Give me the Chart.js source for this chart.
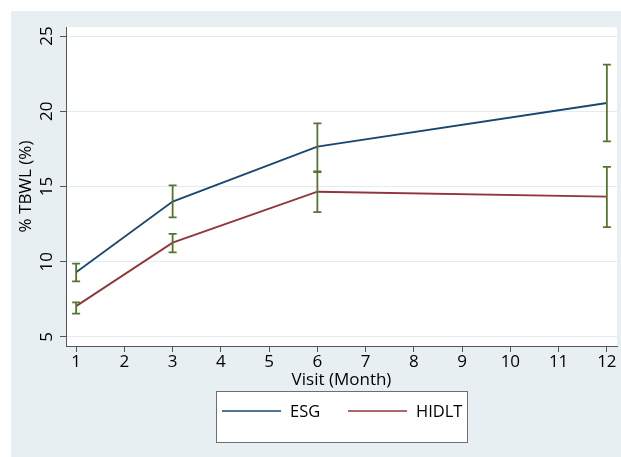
<!DOCTYPE html>
<html>
<head>
<meta charset="utf-8">
<script src="https://cdn.jsdelivr.net/npm/chart.js@4/dist/chart.umd.min.js"></script>
<style>
  html, body { margin: 0; padding: 0; background: #fff; }
  #wrap { position: absolute; left: 11px; top: 11px; width: 610px; height: 446px; background: #e8eff2; }
</style>
</head>
<body>
<div id="wrap"><canvas id="chart" width="610" height="446"></canvas></div>
<script>
// visit months and group means with error bar limits (% TBWL)
const months = [1, 3, 6, 12];
const esgMean = [9.3, 14.0, 17.65, 20.55];
const esgLow = [8.7, 12.95, 15.95, 18.0];
const esgHigh = [9.87, 15.07, 19.2, 23.1];
const hidltMean = [7.05, 11.27, 14.65, 14.33];
const hidltLow = [6.55, 10.62, 13.3, 12.3];
const hidltHigh = [7.3, 11.85, 16.0, 16.3];
const xTicks = [1, 2, 3, 4, 5, 6, 7, 8, 9, 10, 11, 12];
const yTicks = [5, 10, 15, 20, 25];

const FONT = "'Open Sans', 'DejaVu Sans', sans-serif";
const navy = '#1a476f';
const maroon = '#90353b';
const green = '#55752f';

const toPoints = (xs, ys) => xs.map((x, i) => ({ x: x, y: ys[i] }));

// white plot region
const plotBg = {
  id: 'plotBg',
  beforeDraw(chart) {
    const a = chart.chartArea;
    const ctx = chart.ctx;
    ctx.save();
    ctx.fillStyle = '#ffffff';
    ctx.fillRect(a.left, a.top, a.right - a.left, a.bottom - a.top);
    ctx.restore();
  }
};

// capped error bars drawn on top of the lines
const errorBars = {
  id: 'errorBars',
  afterDatasetsDraw(chart) {
    const ctx = chart.ctx;
    const xs = chart.scales.x, ys = chart.scales.y;
    const sets = [[esgLow, esgHigh], [hidltLow, hidltHigh]];
    ctx.save();
    ctx.strokeStyle = green;
    ctx.lineWidth = 1.8;
    sets.forEach(([lo, hi]) => {
      months.forEach((m, i) => {
        const px = xs.getPixelForValue(m);
        const y1 = ys.getPixelForValue(lo[i]);
        const y2 = ys.getPixelForValue(hi[i]);
        ctx.beginPath();
        ctx.moveTo(px, y1); ctx.lineTo(px, y2);
        ctx.moveTo(px - 4, y1); ctx.lineTo(px + 4, y1);
        ctx.moveTo(px - 4, y2); ctx.lineTo(px + 4, y2);
        ctx.stroke();
      });
    });
    ctx.restore();
  }
};

// boxed legend below the x axis title
const boxLegend = {
  id: 'boxLegend',
  afterDraw(chart) {
    const ctx = chart.ctx;
    const bx = 205, by = 380, bw = 251, bh = 51;
    ctx.save();
    ctx.fillStyle = '#ffffff';
    ctx.fillRect(bx, by, bw, bh);
    ctx.strokeStyle = '#6e6e6e';
    ctx.lineWidth = 1;
    ctx.strokeRect(bx + 0.5, by + 0.5, bw, bh);
    const rowY = by + 20;
    const starts = [bx + 6, bx + 132];
    ctx.font = '16.5px ' + FONT;
    ctx.textBaseline = 'middle';
    ctx.fillStyle = '#000';
    chart.data.datasets.forEach((ds, i) => {
      const sx = starts[i];
      ctx.strokeStyle = ds.borderColor;
      ctx.lineWidth = 1.6;
      ctx.beginPath();
      ctx.moveTo(sx, rowY); ctx.lineTo(sx + 59, rowY);
      ctx.stroke();
      ctx.fillText(ds.label, sx + 68, rowY + 1);
    });
    ctx.restore();
  }
};

new Chart(document.getElementById('chart'), {
  type: 'line',
  data: {
    datasets: [
      { label: 'ESG', data: toPoints(months, esgMean), borderColor: navy, borderWidth: 1.8, pointRadius: 0, tension: 0 },
      { label: 'HIDLT', data: toPoints(months, hidltMean), borderColor: maroon, borderWidth: 1.8, pointRadius: 0, tension: 0 }
    ]
  },
  options: {
    responsive: false,
    animation: false,
    layout: { padding: { top: 16, right: 4, left: 0, bottom: 66 } },
    plugins: { legend: { display: false }, tooltip: { enabled: false } },
    scales: {
      x: {
        type: 'linear',
        min: 0.79,
        max: 12.21,
        afterBuildTicks: (s) => { s.ticks = xTicks.map(v => ({ value: v })); },
        afterFit: (s) => { s.height = 45; },
        ticks: { color: '#000', font: { family: FONT, size: 17 }, padding: 0, maxRotation: 0 },
        grid: { drawOnChartArea: false, drawTicks: true, tickLength: 6, tickColor: '#555' },
        border: { display: true, color: '#555', width: 1 },
        title: { display: true, text: 'Visit (Month)', color: '#000', font: { family: FONT, size: 17 }, padding: { top: 0, bottom: 1 } }
      },
      y: {
        min: 4.4,
        max: 25.6,
        afterBuildTicks: (s) => { s.ticks = yTicks.map(v => ({ value: v })); },
        afterFit: (s) => { s.width = 55; },
        ticks: { color: '#000', font: { family: FONT, size: 17 }, padding: 3, minRotation: 90, maxRotation: 90, crossAlign: 'center' },
        grid: { color: '#e3ecf0', lineWidth: 1, drawTicks: true, tickLength: 6, tickColor: '#555' },
        border: { display: true, color: '#555', width: 1 },
        title: { display: true, text: '% TBWL (%)', color: '#000', font: { family: FONT, size: 17 }, padding: { top: 5, bottom: 0 } }
      }
    }
  },
  plugins: [plotBg, errorBars, boxLegend]
});
</script>
</body>
</html>
